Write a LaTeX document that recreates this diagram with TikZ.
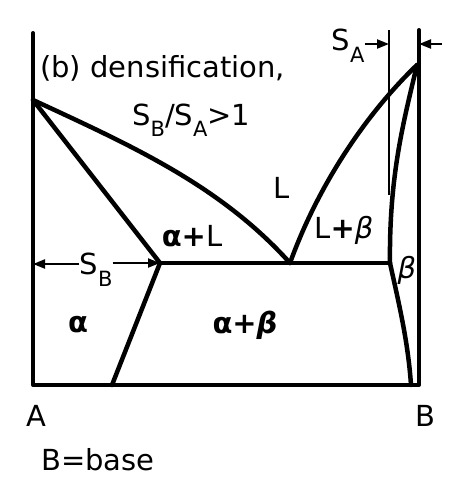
\documentclass[tikz,border=0pt]{standalone}
\usepackage{fontspec}
\setmainfont{DejaVu Sans}
\usetikzlibrary{arrows.meta}
\newcommand\lowsub[1]{\raisebox{-0.4em}{\fontsize{21}{21}\selectfont #1}}
\begin{document}
\begin{tikzpicture}[x=1pt,y=-1pt,
  phase/.style={line width=4.5pt,line cap=round,line join=round},
  axis/.style={line width=4pt,line cap=round,line join=round},
  thin/.style={line width=2.2pt},
  arr/.style={line width=2.2pt,-{Triangle[length=12pt,width=9pt]}},
  lab/.style={inner sep=0pt,font=\fontsize{29}{32}\selectfont}]
\useasboundingbox (0,0) rectangle (450,491);
% key points
\coordinate (TL) at (33,33);
\coordinate (TR) at (419,30);
\coordinate (BL) at (33,385);
\coordinate (BR) at (419,385);
\coordinate (TA) at (33,100);
\coordinate (TB) at (417,65);
\coordinate (E) at (290,263);
\coordinate (Sa) at (160,263);
\coordinate (Sb) at (390,263);
\coordinate (Ab) at (112,385);
\coordinate (Bb) at (411,385);
\coordinate (SAt) at (389,30);
\coordinate (SAb) at (389,195);
\coordinate (axL) at (33,264);
% frame
\draw[axis] (TL) -- (BL) -- (BR) -- (TR);
% phase boundaries
\draw[phase] (TA) .. controls (130,145) and (220,185) .. (E);
\draw[phase] (TA) -- (Sa);
\draw[phase] (Sa) -- (Ab);
\draw[phase] (Sa) -- (Sb);
\draw[phase] (E) .. controls (320,180) and (370,110) .. (TB);
\draw[phase] (TB) .. controls (404,120) and (389,175) .. (Sb);
\draw[phase] (Sb) .. controls (398,300) and (408,340) .. (Bb);
\draw[thin] (SAt) -- (SAb);
% labels
\node[lab,anchor=base west] (title) at (40,77) {(b) densification,};
\node[lab,anchor=base west] (ratio) at (132,125) {S\lowsub{B}/S\lowsub{A}>1};
\node[lab] (Lreg) at (282,188) {L};
\node[lab] (aL) at (192,236) {\textbf{α+}L};
\node[lab] (Lb) at (344,230) {L\textbf{+}\textit{β}};
\node[lab] (SBl) at (96,270) {S\lowsub{B}};
\node[lab] (breg) at (407,270) {\textit{β}};
\node[lab] (areg) at (78,325) {\textbf{α}};
\node[lab] (abreg) at (245,325) {\textbf{α+}\textit{\textbf{β}}};
\node[lab] (Alab) at (36,416) {A};
\node[lab] (Blab) at (425,416) {B};
\node[lab] (base) at (98,460) {B=base};
\node[lab] (SAl) at (348,46) {S\lowsub{A}};
\coordinate (SAin) at (389,44);
\coordinate (SAout) at (419,44);
\coordinate (SArt) at (442,44);
% arrows
\draw[arr] (SBl.west |- axL) -- (axL);
\draw[arr] (SBl.east |- Sa) -- (Sa);
\draw[arr] (SAl.east |- SAin) -- (SAin);
\draw[arr] (SArt) -- (SAout);
\end{tikzpicture}
\end{document}
